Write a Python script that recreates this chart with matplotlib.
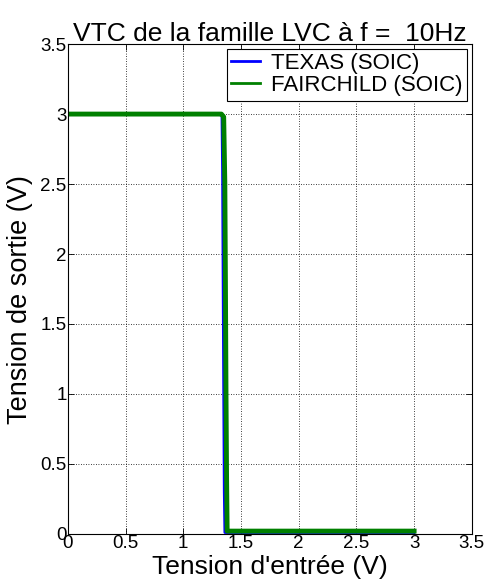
import matplotlib
matplotlib.use("Agg")
import matplotlib.pyplot as plt

# --- Data ---
texas_x = [0.0, 0.5, 1.0, 1.30, 1.335, 1.340, 1.345, 1.350, 1.355, 1.36, 2.0, 3.0]
texas_y = [3.0, 3.0, 3.0, 3.0, 2.99, 2.6, 1.8, 1.0, 0.3, 0.01, 0.01, 0.01]

fair_x = [0.0, 0.5, 1.0, 1.30, 1.33, 1.35, 1.36, 1.365, 1.37, 1.375, 1.38, 2.0, 3.0]
fair_y = [3.0, 3.0, 3.0, 3.0, 3.0, 2.98, 2.5, 1.8, 1.0, 0.4, 0.02, 0.02, 0.02]

xticks = [0, 0.5, 1, 1.5, 2, 2.5, 3, 3.5]
yticks = [0, 0.5, 1, 1.5, 2, 2.5, 3, 3.5]

plt.rcParams["font.family"] = ["Liberation Sans", "DejaVu Sans"]

fig = plt.figure(figsize=(4.92, 5.88), dpi=100)
ax = fig.add_axes([0.138, 0.092, 0.821, 0.833])

ax.plot(texas_x, texas_y, color="#0000ff", lw=2.0, label="TEXAS (SOIC)")
ax.plot(fair_x, fair_y, color="#008000", lw=3.5, label="FAIRCHILD (SOIC)")

ax.set_xlim(0, 3.5)
ax.set_ylim(0, 3.5)
ax.set_xticks(xticks)
ax.set_yticks(yticks)
ax.set_xticklabels([f"{t:g}" for t in xticks])
ax.set_yticklabels([f"{t:g}" for t in yticks])
ax.tick_params(direction="in", length=4, width=0.6, labelsize=13.5, pad=1,
               top=True, right=True)
ax.grid(True, color="black", linestyle=(0, (1, 2)), linewidth=0.6)
for s in ax.spines.values():
    s.set_linewidth(0.8)

ax.set_title("VTC de la famille LVC à f =  10Hz", fontsize=19, pad=2)
ax.set_xlabel("Tension d'entrée (V)", fontsize=19, labelpad=2)
ax.set_ylabel("Tension de sortie (V)", fontsize=19.5)
ax.yaxis.set_label_coords(-0.087, 0.478)

leg = ax.legend(loc="upper right", fontsize=16, frameon=True, fancybox=False,
                edgecolor="black", framealpha=1, borderaxespad=0.2,
                handlelength=1.3, handletextpad=0.5, borderpad=0.2,
                labelspacing=0.05)
leg.get_frame().set_linewidth(0.8)
for h in leg.get_lines():
    h.set_linewidth(2.0)

fig.savefig("out.png", dpi=100)
